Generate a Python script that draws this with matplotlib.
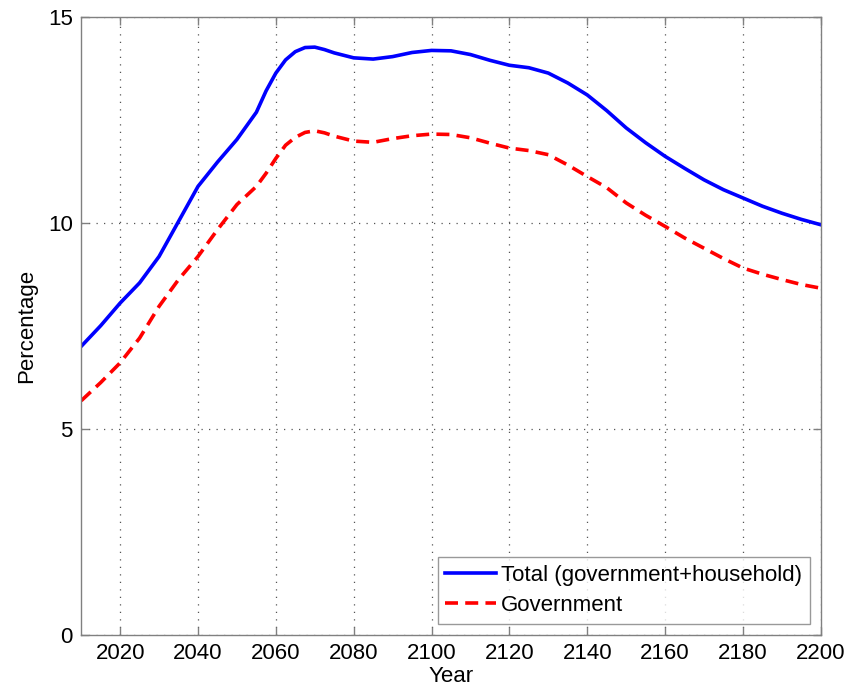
import matplotlib
matplotlib.use("Agg")
import matplotlib.pyplot as plt

# values
years = [2010, 2015, 2020, 2025, 2030, 2035, 2040, 2045, 2050, 2055,
         2057.5, 2060, 2062.5, 2065, 2067.5, 2070, 2072.5, 2075, 2080, 2085,
         2090, 2095, 2100, 2105, 2110, 2115, 2120, 2125, 2130, 2135,
         2140, 2145, 2150, 2155, 2160, 2165, 2170, 2175, 2180, 2185,
         2190, 2195, 2200]
total = [7.0, 7.5, 8.05, 8.54, 9.18, 10.03, 10.88, 11.47, 12.02, 12.68,
         13.2, 13.63, 13.95, 14.15, 14.25, 14.26, 14.2, 14.12, 14.0, 13.97,
         14.03, 14.13, 14.18, 14.17, 14.08, 13.94, 13.82, 13.76, 13.63, 13.39,
         13.1, 12.72, 12.3, 11.94, 11.61, 11.32, 11.04, 10.8, 10.6, 10.4,
         10.23, 10.08, 9.95]
government = [5.68, 6.12, 6.6, 7.2, 7.97, 8.62, 9.18, 9.83, 10.44, 10.88,
              11.2, 11.56, 11.88, 12.07, 12.19, 12.23, 12.18, 12.1, 11.98, 11.95,
              12.04, 12.11, 12.15, 12.14, 12.06, 11.93, 11.81, 11.75, 11.65, 11.4,
              11.12, 10.85, 10.48, 10.18, 9.91, 9.63, 9.38, 9.13, 8.9, 8.75,
              8.62, 8.5, 8.41]
xticks = [2020, 2040, 2060, 2080, 2100, 2120, 2140, 2160, 2180, 2200]
yticks = [0, 5, 10, 15]

plt.rcParams['font.family'] = ['Liberation Sans', 'DejaVu Sans']

fig = plt.figure(figsize=(8.64, 6.93), dpi=100)
ax = fig.add_axes([0.094, 0.084, 0.856, 0.892])

ax.plot(years, total, color='#0000ff', lw=2.6, label='Total (government+household)')
ax.plot(years, government, color='#ff0000', lw=2.6, ls=(0, (3.6, 2.0)),
        label='Government')

ax.set_xlim(2010, 2200)
ax.set_ylim(0, 15)
ax.set_xticks(xticks)
ax.set_yticks(yticks)
ax.grid(True, ls=(0, (1, 5)), color='#555555', lw=0.9)

for s in ax.spines.values():
    s.set_color('#808080')
    s.set_linewidth(1.0)
ax.tick_params(direction='in', length=6, width=1.0, color='#808080',
               top=True, right=True, labelsize=16, labelcolor='black', pad=6)

ax.set_xlabel('Year', fontsize=16, labelpad=1)
ax.set_ylabel('Percentage', fontsize=16, labelpad=8)

leg = ax.legend(loc='lower right', fontsize=16, handlelength=2.3,
                handletextpad=0.2, borderaxespad=0.5, fancybox=False,
                borderpad=0.35, labelspacing=0.4)
leg.get_frame().set_edgecolor('#808080')
leg.get_frame().set_linewidth(1.0)

fig.savefig('out.png', dpi=100)
